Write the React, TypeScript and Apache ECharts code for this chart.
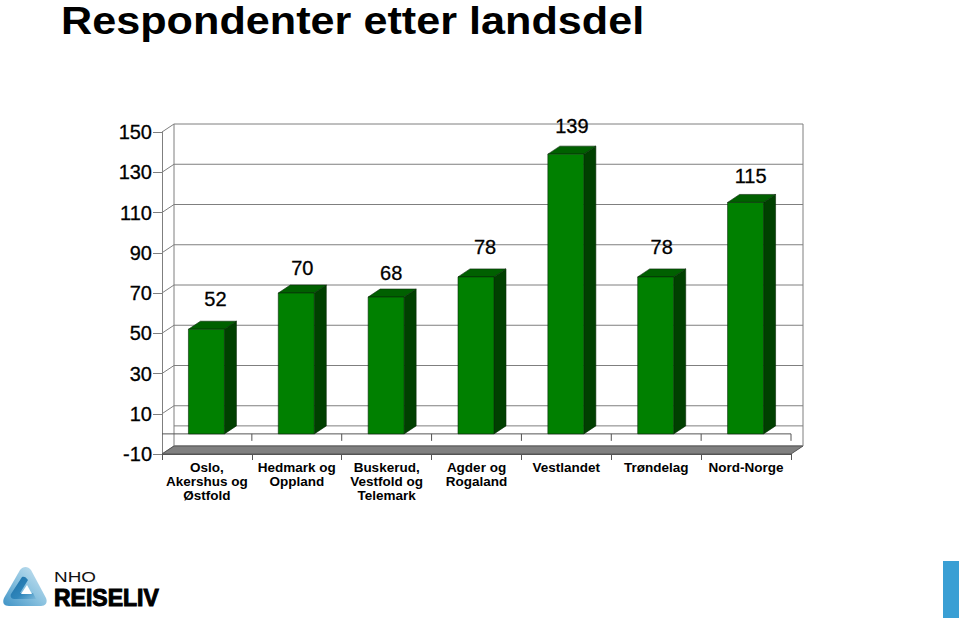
import React, { useEffect, useRef } from "react";
import * as echarts from "echarts";

const titleText = "Respondenter etter landsdel";
const categories = [
  "Oslo,\nAkershus og\nØstfold",
  "Hedmark og\nOppland",
  "Buskerud,\nVestfold og\nTelemark",
  "Agder og\nRogaland",
  "Vestlandet",
  "Trøndelag",
  "Nord-Norge",
];
const respondents = [52, 70, 68, 78, 139, 78, 115];
const tickValues = [-10, 10, 30, 50, 70, 90, 110, 130, 150];
const backWallValues = [-10, 0, 10, 30, 50, 70, 90, 110, 130, 150];

const DX = 12;
const DY = -8;
const BAR_W = 36;
const GRID_LINE = "#7f7f7f";
const FONT = "'Liberation Sans', Arial, sans-serif";
// label nudges relative to the bar's top centre (label placement of the original)
const labelDx = [8.5, 5.5, 4.5, 8.5, 5.5, 5.5, 4.5];
const labelDy = [-30, -25, -24, -30, -28, -30, -26];

echarts.graphic.registerShape(
  "nhoLogoOuter",
  echarts.graphic.extendPath(
    "M20 8 C23 4 28 4 31 8 L46 36 C48 41 45 44 41 44 L9 44 C4 44 2 41 4 36 Z",
    {}
  )
);
echarts.graphic.registerShape(
  "nhoLogoBand",
  echarts.graphic.extendPath(
    "M22 15 C24 14 26 15 28 18 L20 31 L33 31 L36 37 L14 37 C11 37 10 34 11 32 Z",
    {}
  )
);
echarts.graphic.registerShape(
  "nhoLogoCentre",
  echarts.graphic.extendPath("M27 23 L21 32 L32 32 Z", {})
);

function renderFrame(params: any, api: any) {
  const g = params.coordSys;
  const left = g.x;
  const right = g.x + g.width;
  const bottom = g.y + g.height;
  const top = g.y;
  const zeroY = api.coord([0, 0])[1];
  const step = api.size([1, 0])[0];
  const line = (x1: number, y1: number, x2: number, y2: number, color = GRID_LINE) => ({
    type: "line",
    shape: { x1, y1, x2, y2 },
    style: { stroke: color, lineWidth: 1 },
  });
  const children: any[] = [
    {
      type: "polygon",
      shape: {
        points: [
          [left, bottom],
          [left + DX, bottom + DY],
          [right + DX, bottom + DY],
          [right, bottom],
        ],
      },
      style: { fill: "#808080", stroke: "#555555", lineWidth: 1 },
    },
    line(left + DX, top + DY, left + DX, bottom + DY),
    line(right + DX, top + DY, right + DX, bottom + DY),
    line(left, zeroY, right, zeroY, "#555555"),
  ];
  categories.forEach((_, i) => {
    const x = left + step * i;
    if (i > 0) children.push(line(x, zeroY, x, zeroY + 7, "#555555"));
  });
  children.push(line(right, zeroY, right, zeroY + 7, "#555555"));
  return { type: "group", children };
}

function renderWall(params: any, api: any) {
  const g = params.coordSys;
  const v = api.value(1);
  const y = api.coord([0, v])[1];
  const children: any[] = [
    {
      type: "line",
      shape: { x1: g.x + DX, y1: y + DY, x2: g.x + g.width + DX, y2: y + DY },
      style: { stroke: GRID_LINE, lineWidth: 1 },
    },
  ];
  if (tickValues.includes(v)) {
    children.push({
      type: "line",
      shape: { x1: g.x, y1: y, x2: g.x + DX, y2: y + DY },
      style: { stroke: GRID_LINE, lineWidth: 1 },
    });
  }
  return { type: "group", children };
}

function renderBar(params: any, api: any) {
  const idx = api.value(0);
  const v = api.value(1);
  const [cx, yTop] = api.coord([idx, v]);
  const yBase = api.coord([idx, 0])[1];
  const x0 = cx - BAR_W / 2 - 0.5;
  const x1 = x0 + BAR_W;
  const edge = { stroke: "#0a2a0a", lineWidth: 0.6 };
  return {
    type: "group",
    children: [
      {
        type: "polygon",
        shape: {
          points: [
            [x1, yTop],
            [x1 + DX, yTop + DY],
            [x1 + DX, yBase + DY],
            [x1, yBase],
          ],
        },
        style: { fill: "#004000", ...edge },
      },
      {
        type: "polygon",
        shape: {
          points: [
            [x0, yTop],
            [x0 + DX, yTop + DY],
            [x1 + DX, yTop + DY],
            [x1, yTop],
          ],
        },
        style: { fill: "#006000", ...edge },
      },
      {
        type: "rect",
        shape: { x: x0, y: yTop, width: BAR_W, height: yBase - yTop },
        style: { fill: "#008000", ...edge },
      },
      {
        type: "text",
        x: cx + labelDx[params.dataIndex],
        y: yTop + labelDy[params.dataIndex],
        style: {
          text: String(v),
          fill: "#000000",
          stroke: "#000000",
          lineWidth: 0.3,
          font: `20px ${FONT}`,
          align: "center",
          verticalAlign: "middle",
        },
      },
    ],
  };
}

export default function App() {
  const ref = useRef<HTMLDivElement>(null);
  useEffect(() => {
    document.body.style.margin = "0";
    const chart = echarts.init(ref.current!, undefined, { renderer: "svg" });
    chart.setOption({
      animation: false,
      backgroundColor: "#ffffff",
      grid: { left: 162, top: 132, width: 629, height: 322, containLabel: false },
      xAxis: {
        type: "category",
        data: categories,
        position: "bottom",
        axisLine: { onZero: false, lineStyle: { color: "#555555" } },
        axisTick: { show: true, alignWithLabel: false, length: 6, lineStyle: { color: "#555555" } },
        splitLine: { show: false },
        axisLabel: {
          interval: 0,
          margin: 6,
          color: "#000000",
          fontFamily: FONT,
          fontWeight: "bold",
          fontSize: 13.5,
          lineHeight: 14,
          verticalAlign: "top",
        },
      },
      yAxis: {
        type: "value",
        min: -10,
        max: 150,
        axisLine: { show: true, lineStyle: { color: GRID_LINE } },
        axisTick: { show: true, length: 9, customValues: tickValues, lineStyle: { color: GRID_LINE } },
        splitLine: { show: false },
        axisLabel: {
          customValues: tickValues,
          margin: 10,
          color: "#000000",
          textBorderColor: "#000000",
          textBorderWidth: 0.3,
          fontFamily: FONT,
          fontSize: 20,
        },
      },
      series: [
        {
          type: "custom",
          name: "wall",
          clip: false,
          silent: true,
          z: 1,
          encode: { x: 0, y: 1 },
          data: backWallValues.map((v) => [0, v]),
          renderItem: renderWall,
        },
        {
          type: "custom",
          name: "frame",
          clip: false,
          silent: true,
          z: 2,
          encode: { x: 0, y: 1 },
          data: [[0, 0]],
          renderItem: renderFrame,
        },
        {
          type: "custom",
          name: "Respondenter",
          clip: false,
          z: 3,
          encode: { x: 0, y: 1 },
          data: respondents.map((v, i) => [i, v]),
          renderItem: renderBar,
        },
      ],
      graphic: [
        {
          type: "text",
          x: 61,
          y: 2,
          scaleX: 1.137,
          style: {
            text: titleText,
            fill: "#000000",
            font: `bold 38px ${FONT}`,
            verticalAlign: "top",
          },
        },
        {
          type: "nhoLogoOuter",
          x: 0,
          y: 562,
          style: {
            fill: {
              type: "linear",
              x: 0,
              y: 1,
              x2: 1,
              y2: 0,
              colorStops: [
                { offset: 0, color: "#3f93c6" },
                { offset: 0.5, color: "#8cc3e0" },
                { offset: 1, color: "#d3e8f3" },
              ],
            },
          },
        },
        {
          type: "nhoLogoBand",
          x: 0,
          y: 562,
          style: {
            fill: {
              type: "linear",
              x: 0,
              y: 0,
              x2: 1,
              y2: 1,
              colorStops: [
                { offset: 0, color: "#1c6fa6" },
                { offset: 0.6, color: "#2f86bb" },
                { offset: 1, color: "#7db9da" },
              ],
            },
          },
        },
        {
          type: "nhoLogoCentre",
          x: 0,
          y: 562,
          style: { fill: "#ffffff" },
        },
        {
          type: "text",
          x: 54,
          y: 570,
          scaleX: 1.35,
          style: {
            text: "NHO",
            fill: "#111111",
            font: `14px ${FONT}`,
          },
        },
        {
          type: "text",
          x: 54,
          y: 586,
          style: {
            text: "REISELIV",
            fill: "#000000",
            stroke: "#000000",
            lineWidth: 1,
            font: `bold 23px ${FONT}`,
          },
        },
        {
          type: "rect",
          shape: { x: 943, y: 561, width: 16, height: 57 },
          style: { fill: "#3a9fd4" },
        },
      ],
    });
    return () => chart.dispose();
  }, []);
  return <div ref={ref} style={{ width: 960, height: 622 }} />;
}
